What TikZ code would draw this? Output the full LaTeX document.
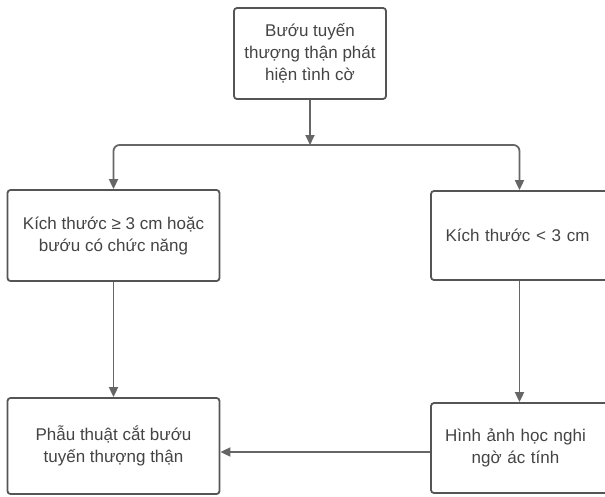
\documentclass[tikz,border=0pt]{standalone}
\usepackage{fontspec}
\setmainfont{Liberation Sans}
\usetikzlibrary{arrows.meta}
\definecolor{txt}{HTML}{444444}
\definecolor{edge}{HTML}{555555}
\definecolor{conn}{HTML}{666666}
\begin{document}
\begin{tikzpicture}[x=1pt,y=-1pt,
  box/.style={draw=edge,line width=1.8pt,rounded corners=3pt,fill=white,
    text=txt,align=center,font=\fontsize{17}{22}\selectfont,inner sep=0pt},
  arr/.style={draw=conn,line width=1.8pt,-{Triangle[length=10pt,width=9pt]}}]
\useasboundingbox (0,0) rectangle (605,496);
\node[box,minimum width=152pt,minimum height=91pt] (top) at (310,53.5) {Bướu tuyến\\thượng thận phát\\hiện tình cờ};
\node[box,minimum width=212pt,minimum height=91pt] (left) at (113.5,235.5) {Kích thước ≥ 3 cm hoặc\\bướu có chức năng};
\node[box,minimum width=177pt,minimum height=89pt,text width=170pt] (right) at (519.5,235.5) {\hspace*{-4pt}Kích thước < 3 cm};
\node[box,minimum width=212pt,minimum height=96pt] (surg) at (113.5,446) {Phẫu thuật cắt bướu\\tuyến thượng thận};
\node[box,minimum width=177pt,minimum height=90pt,text width=170pt] (img) at (519.5,448) {\hspace*{-8pt}Hình ảnh học nghi\\\hspace*{-8pt}ngờ ác tính};
\coordinate (j) at (310,145);
\draw[arr] (top.south) -- (j);
\draw[arr,rounded corners=6pt] (j) -| (left.north);
\draw[arr,rounded corners=6pt] (j) -| (right.north);
\draw[arr] (left.south) -- (surg.north);
\draw[arr] (right.south) -- (img.north);
\draw[arr] ([yshift=-4pt]img.west) -- ([yshift=-4pt]img.west -| surg.east);
\end{tikzpicture}
\end{document}
